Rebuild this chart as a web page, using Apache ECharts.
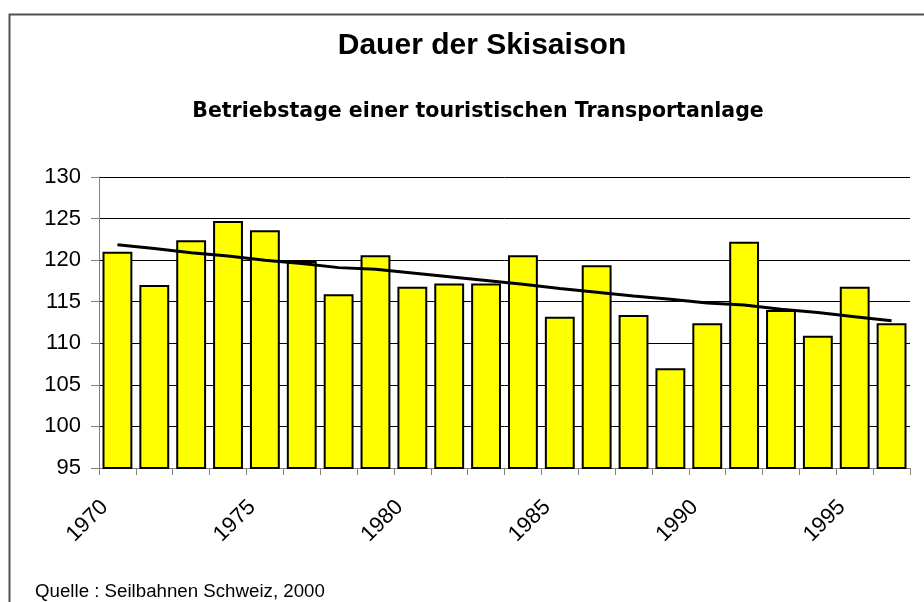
<!DOCTYPE html>
<html>
<head>
<meta charset="utf-8">
<script src="https://cdn.jsdelivr.net/npm/echarts@6/dist/echarts.min.js"></script>
<style>
  html, body { margin: 0; padding: 0; background: #fff; }
  #main { width: 924px; height: 602px; }
</style>
</head>
<body>
<div id="main"></div>
<script>
// Betriebstage pro Saison (22 Saisons)
var days = [121.0, 117.0, 122.4, 124.7, 123.6, 119.9, 115.9, 120.6, 116.8, 117.2, 117.2,
            120.6, 113.2, 119.4, 113.4, 107.0, 112.4, 122.2, 114.0, 110.9, 116.8, 112.4];
// Trendlinie
var trend = [121.85, 121.4, 120.9, 120.5, 120.0, 119.6, 119.1, 118.9, 118.45, 118.0, 117.55,
             117.1, 116.6, 116.15, 115.7, 115.3, 114.85, 114.6, 114.1, 113.7, 113.2, 112.7];
// Achsenbeschriftung (jede 4. Kategorie)
var tickLabels = ['1970', '1975', '1980', '1985', '1990', '1995'];
var categories = days.map(function (d, i) { return String(i); });

var myChart = echarts.init(document.getElementById('main'));

var font = '"Liberation Sans", Arial, sans-serif';

option = {
    animation: false,
    title: [{
        text: 'Dauer der Skisaison',
        left: 477,
        top: 26,
        textAlign: 'center',
        textStyle: { fontFamily: font, fontSize: 30, fontWeight: 'bold', color: '#000' }
    }, {
        text: 'Betriebstage einer touristischen Transportanlage',
        left: 473,
        top: 96,
        textAlign: 'center',
        textStyle: { fontFamily: '"DejaVu Sans", sans-serif', fontSize: 20.5, fontWeight: 'bold', color: '#000' }
    }],
    graphic: [{
        type: 'polyline',
        shape: { points: [[9.5, 602], [9.5, 14.5], [924, 14.5]] },
        style: { stroke: '#505050', lineWidth: 2, fill: null }
    }, {
        type: 'text',
        left: 35,
        top: 582,
        style: { text: 'Quelle : Seilbahnen Schweiz, 2000', fontFamily: font, fontSize: 18.7, fill: '#000' }
    }],
    grid: { left: 99, right: 14, top: 177, bottom: 134 },
    xAxis: {
        type: 'category',
        data: categories,
        boundaryGap: true,
        axisLine: { lineStyle: { color: '#808080', width: 1 } },
        axisTick: { show: true, interval: 0, length: 7, lineStyle: { color: '#808080' } },
        axisLabel: {
            interval: 3,
            rotate: 45,
            margin: 23,
            padding: [0, 18, 0, 0],
            fontFamily: font,
            fontSize: 22,
            color: '#000',
            formatter: function (v, i) { return tickLabels[i / 4] || ''; }
        },
        splitLine: { show: false }
    },
    yAxis: {
        type: 'value',
        min: 95,
        max: 130,
        interval: 5,
        axisLine: { show: true, lineStyle: { color: '#808080', width: 1 } },
        axisTick: { show: true, inside: false, length: 8, lineStyle: { color: '#808080' } },
        axisLabel: { margin: 18, fontFamily: font, fontSize: 22, color: '#000' },
        splitLine: { show: true, lineStyle: { color: '#000', width: 1 } }
    },
    series: [{
        name: 'Betriebstage',
        type: 'bar',
        data: days,
        barCategoryGap: '19%',
        itemStyle: { color: '#ffff00', borderColor: '#000', borderWidth: 2 }
    }, {
        name: 'Trend',
        type: 'line',
        data: trend,
        symbol: 'none',
        lineStyle: { color: '#000', width: 3 },
        z: 5
    }]
};

myChart.setOption(option);
</script>
</body>
</html>
